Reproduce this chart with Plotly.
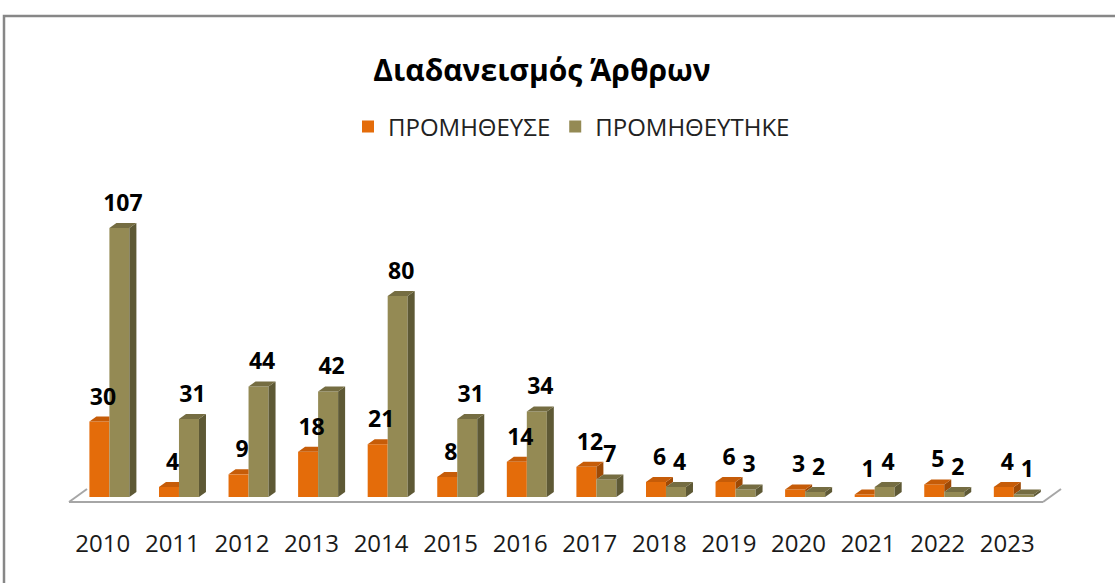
import plotly.graph_objects as go

years = ["2010", "2011", "2012", "2013", "2014", "2015", "2016",
         "2017", "2018", "2019", "2020", "2021", "2022", "2023"]
supplied = [30, 4, 9, 18, 21, 8, 14, 12, 6, 6, 3, 1, 5, 4]
received = [107, 31, 44, 42, 80, 31, 34, 7, 4, 3, 2, 4, 2, 1]

name_a = "ΠΡΟΜΗΘΕΥΣΕ"
name_b = "ΠΡΟΜΗΘΕΥΤΗΚΕ"
title = "Διαδανεισμός Άρθρων"

FONT = "Open Sans"
ORANGE, ORANGE_TOP, ORANGE_SIDE = "#E46C0A", "#C65C08", "#9E4A06"
OLIVE, OLIVE_TOP, OLIVE_SIDE = "#948A54", "#756D42", "#5E5935"

# plot area in pixels
L, R, T, B = 68, 1042, 168, 497
W, H = R - L, B - T
PX_PER_UNIT = 2.514
YMAX = H / PX_PER_UNIT
CAT_PX = W / len(years)

# bar geometry in axis units
BW = 20 / CAT_PX          # front width
SHIFT = 0.095             # group offset to the right
DX = 7 / CAT_PX           # depth along x
DY = 5 / PX_PER_UNIT      # depth along y

idx = list(range(len(years)))
xa = [i + SHIFT - BW / 2 for i in idx]
xb = [i + SHIFT + BW / 2 for i in idx]

fig = go.Figure()
fig.add_trace(go.Bar(x=xa, y=supplied, width=BW, name=name_a,
                     marker=dict(color=ORANGE, line=dict(width=0))))
fig.add_trace(go.Bar(x=xb, y=received, width=BW, name=name_b,
                     marker=dict(color=OLIVE, line=dict(width=0))))

shapes = []
for i in idx:
    va, vb = supplied[i], received[i]
    al, ar = xa[i] - BW / 2, xa[i] + BW / 2
    bl, br = xb[i] - BW / 2, xb[i] + BW / 2
    # orange side (only the part above the olive bar)
    if va > vb:
        shapes.append(dict(type="path", xref="x", yref="y", layer="above",
                           path=f"M{ar},{vb} L{ar},{va} L{ar+DX},{va+DY} L{ar+DX},{vb+DY} Z",
                           fillcolor=ORANGE_SIDE, line=dict(width=0)))
        shapes.append(dict(type="path", xref="x", yref="y", layer="above",
                           path=f"M{al},{va} L{al+DX},{va+DY} L{ar+DX},{va+DY} L{ar},{va} Z",
                           fillcolor=ORANGE_TOP, line=dict(width=0)))
    else:
        shapes.append(dict(type="path", xref="x", yref="y", layer="above",
                           path=f"M{al},{va} L{al+DX},{va+DY} L{ar},{va+DY} L{ar},{va} Z",
                           fillcolor=ORANGE_TOP, line=dict(width=0)))
    # olive side and top
    shapes.append(dict(type="path", xref="x", yref="y", layer="above",
                       path=f"M{br},0 L{br},{vb} L{br+DX},{vb+DY} L{br+DX},{DY} Z",
                       fillcolor=OLIVE_SIDE, line=dict(width=0)))
    shapes.append(dict(type="path", xref="x", yref="y", layer="above",
                       path=f"M{bl},{vb} L{bl+DX},{vb+DY} L{br+DX},{vb+DY} L{br},{vb} Z",
                       fillcolor=OLIVE_TOP, line=dict(width=0)))

# data labels
lab_font = dict(family=FONT, size=23, color="#000000", weight="bold")
fig.add_trace(go.Scatter(x=[x + DX / 2 for x in xa], y=[v + DY + 2.5 for v in supplied],
                         mode="text", text=[str(v) for v in supplied],
                         textposition="top center", textfont=lab_font,
                         showlegend=False, hoverinfo="skip", cliponaxis=False))
fig.add_trace(go.Scatter(x=[x + DX / 2 for x in xb], y=[v + DY + 2.5 for v in received],
                         mode="text", text=[str(v) for v in received],
                         textposition="top center", textfont=lab_font,
                         showlegend=False, hoverinfo="skip", cliponaxis=False))


def px(x):
    return (x - L) / W


def py(y):
    return (B - y) / H


shapes += [
    # outer chart frame
    dict(type="rect", xref="paper", yref="paper",
         x0=px(4), x1=px(1130), y0=py(600), y1=py(16),
         line=dict(color="#878787", width=2.5), fillcolor="rgba(0,0,0,0)", layer="below"),
    # floor edges
    dict(type="line", xref="paper", yref="paper",
         x0=px(69), x1=px(1043), y0=py(502), y1=py(502),
         line=dict(color="#A6A6A6", width=2)),
    dict(type="line", xref="paper", yref="paper",
         x0=px(69), x1=px(87), y0=py(502), y1=py(489),
         line=dict(color="#A6A6A6", width=2)),
    dict(type="line", xref="paper", yref="paper",
         x0=px(1043), x1=px(1061), y0=py(502), y1=py(489),
         line=dict(color="#A6A6A6", width=2)),
]

fig.update_layout(
    width=1115, height=583,
    margin=dict(l=L, r=1115 - R, t=T, b=583 - B, pad=0),
    paper_bgcolor="white", plot_bgcolor="white",
    barmode="overlay",
    title=dict(text=title, x=542 / 1115, xanchor="center", y=1 - 70 / 583, yanchor="middle",
               font=dict(family=FONT, size=30, color="#000000", weight="bold")),
    legend=dict(orientation="h", x=px(348), xanchor="left", y=py(127), yanchor="middle",
                font=dict(family=FONT, size=24, color="#222222"),
                itemwidth=30, tracegroupgap=0),
    showlegend=True,
    xaxis=dict(range=[-0.5, len(years) - 0.5], tickmode="array", tickvals=idx, ticktext=years,
               showline=False, showgrid=False, zeroline=False, ticks="",
               ticklabelstandoff=30,
               tickfont=dict(family=FONT, size=24, color="#1a1a1a")),
    yaxis=dict(range=[0, YMAX], showgrid=False, showline=False,
               showticklabels=False, zeroline=False, ticks=""),
    shapes=shapes,
)

fig.write_html("out.html", config={"displayModeBar": False},
               post_script="document.body.style.margin='0';")
